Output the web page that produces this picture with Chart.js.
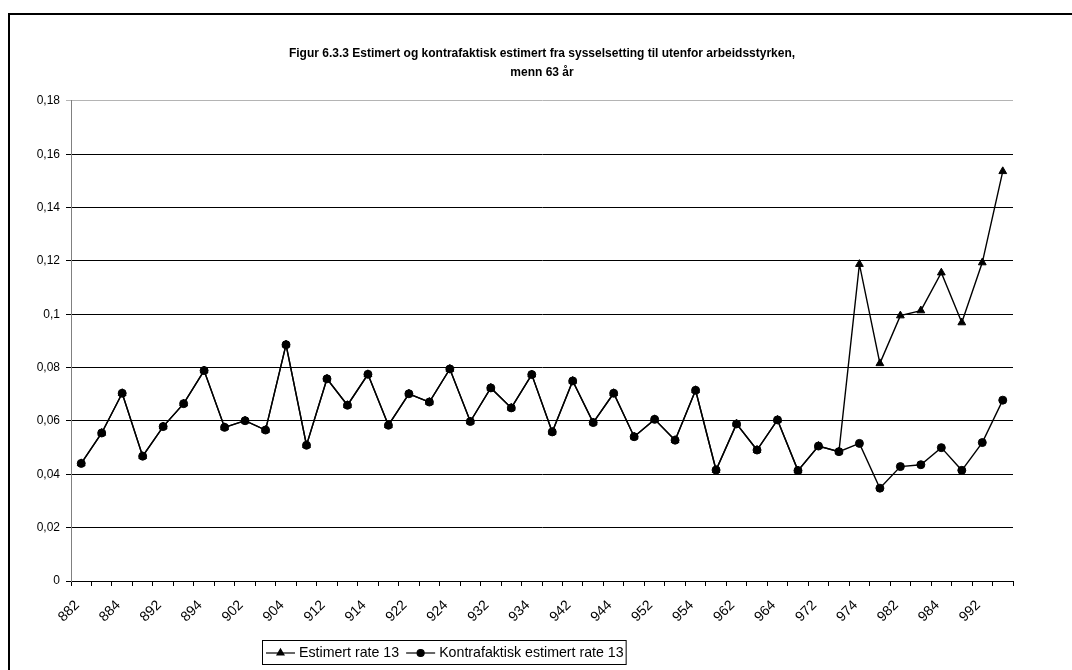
<!DOCTYPE html>
<html>
<head>
<meta charset="utf-8">
<script src="https://cdn.jsdelivr.net/npm/chart.js@4"></script>
<style>
    html, body { margin: 0; padding: 0; background: #fff; overflow: hidden; }
    #wrap { position: relative; width: 1072px; height: 670px; }
    #frame {
        position: absolute; left: 8px; top: 13px; width: 1200px; height: 800px;
        border-top: 2px solid #000; border-left: 2px solid #000; pointer-events: none;
    }
</style>
</head>
<body>
<div id="wrap">
    <canvas id="chart" width="1072" height="670"></canvas>
    <div id="frame"></div>
</div>
<script>
// Kvartal (år + kvartal)
const categories = [
    '882', '883', '884',
    '891', '892', '893', '894',
    '901', '902', '903', '904',
    '911', '912', '913', '914',
    '921', '922', '923', '924',
    '931', '932', '933', '934',
    '941', '942', '943', '944',
    '951', '952', '953', '954',
    '961', '962', '963', '964',
    '971', '972', '973', '974',
    '981', '982', '983', '984',
    '991', '992', '993'
];

const estimertRate = [
    0.0441, 0.0555, 0.0704,
    0.0468, 0.0579, 0.0665, 0.0789,
    0.0576, 0.0601, 0.0566, 0.0886,
    0.0509, 0.0758, 0.0659, 0.0775,
    0.0584, 0.0702, 0.0671, 0.0795,
    0.0598, 0.0724, 0.0649, 0.0774,
    0.0559, 0.0750, 0.0594, 0.0704,
    0.0541, 0.0606, 0.0528, 0.0715,
    0.0416, 0.0589, 0.0491, 0.0604,
    0.0414, 0.0506, 0.0485, 0.1188,
    0.0816, 0.0995, 0.1014, 0.1156,
    0.0969, 0.1194, 0.1536
];

const kontrafaktiskRate = [
    0.0441, 0.0555, 0.0704,
    0.0468, 0.0579, 0.0665, 0.0789,
    0.0576, 0.0601, 0.0566, 0.0886,
    0.0509, 0.0758, 0.0659, 0.0775,
    0.0584, 0.0702, 0.0671, 0.0795,
    0.0598, 0.0724, 0.0649, 0.0774,
    0.0559, 0.0750, 0.0594, 0.0704,
    0.0541, 0.0606, 0.0528, 0.0715,
    0.0416, 0.0589, 0.0491, 0.0604,
    0.0414, 0.0506, 0.0485, 0.0516,
    0.0348, 0.0429, 0.0436, 0.0500,
    0.0415, 0.0519, 0.0678
];

const seriesNames = ['Estimert rate 13', 'Kontrafaktisk estimert rate 13'];
const titleLines = [
    'Figur 6.3.3 Estimert og kontrafaktisk estimert fra sysselsetting til utenfor arbeidsstyrken,',
    'menn 63 år'
];

const FONT = '"Liberation Sans", Arial, sans-serif';

// Legend drawn as a boxed row under the chart (Excel style)
const boxLegend = {
    id: 'boxLegend',
    afterDraw(chart) {
        const ctx = chart.ctx;
        const left = 262, top = 640, height = 24;
        const lineLen = 29;
        ctx.save();
        ctx.font = '14.2px ' + FONT;
        ctx.textBaseline = 'middle';
        let x = left + 4;
        const y = top + height / 2 + 1;
        let textEnd = x;
        chart.data.datasets.forEach((ds) => {
            ctx.strokeStyle = '#000';
            ctx.lineWidth = 1.2;
            ctx.beginPath();
            ctx.moveTo(x, y);
            ctx.lineTo(x + lineLen, y);
            ctx.stroke();
            ctx.fillStyle = '#000';
            Chart.helpers.drawPoint(ctx, {
                pointStyle: ds.pointStyle,
                radius: ds.pointRadius - 0.5,
                borderWidth: 1,
                rotation: 0
            }, x + lineLen / 2, y);
            ctx.fillStyle = '#000';
            ctx.fillText(ds.label, x + lineLen + 4, y);
            textEnd = x + lineLen + 4 + ctx.measureText(ds.label).width;
            x = textEnd + 7;
        });
        ctx.strokeStyle = '#000';
        ctx.lineWidth = 1;
        ctx.strokeRect(left + 0.5, top + 0.5, textEnd + 2 - left, height);
        ctx.restore();
    }
};

const chart = new Chart(document.getElementById('chart').getContext('2d'), {
    type: 'line',
    data: {
        labels: categories,
        datasets: [{
            label: seriesNames[0],
            data: estimertRate,
            borderColor: '#000',
            backgroundColor: '#000',
            borderWidth: 1.4,
            pointStyle: 'triangle',
            pointRadius: 4.5,
            pointBorderWidth: 1,
            tension: 0
        }, {
            label: seriesNames[1],
            data: kontrafaktiskRate,
            borderColor: '#000',
            backgroundColor: '#000',
            borderWidth: 1.4,
            pointStyle: 'circle',
            pointRadius: 4,
            pointBorderWidth: 1,
            tension: 0
        }]
    },
    options: {
        responsive: false,
        animation: false,
        layout: {
            padding: { left: 0, right: 59, top: 0, bottom: 0 }
        },
        plugins: {
            legend: { display: false },
            tooltip: { enabled: false },
            title: {
                display: true,
                fullSize: false,
                text: titleLines,
                color: '#000',
                font: { family: FONT, size: 12, weight: 'bold', lineHeight: 1.58 },
                padding: { top: 44, bottom: 19 }
            }
        },
        scales: {
            x: {
                offset: true,
                grid: {
                    offset: true,
                    drawOnChartArea: false,
                    drawTicks: true,
                    tickLength: 5,
                    color: '#000'
                },
                border: { color: '#000', width: 1 },
                ticks: {
                    autoSkip: false,
                    maxRotation: 45,
                    minRotation: 45,
                    padding: 11,
                    labelOffset: -4,
                    color: '#000',
                    font: { family: FONT, size: 14 },
                    callback: function (value, index) {
                        return index % 2 === 0 ? this.getLabelForValue(value) : '';
                    }
                },
                afterFit: function (scale) {
                    scale.height = 89;
                }
            },
            y: {
                min: 0,
                max: 0.18,
                grid: {
                    color: (c) => (c.tick && c.tick.value >= 0.179 ? '#b4b4b4' : '#000'),
                    tickLength: 5,
                    lineWidth: 1
                },
                border: { color: '#808080', width: 1 },
                ticks: {
                    stepSize: 0.02,
                    padding: 6,
                    color: '#000',
                    font: { family: FONT, size: 12 },
                    callback: (v) => String(Math.round(v * 100) / 100).replace('.', ',')
                },
                afterFit: function (scale) {
                    scale.width = 71;
                }
            }
        }
    },
    plugins: [boxLegend]
});
</script>
</body>
</html>
